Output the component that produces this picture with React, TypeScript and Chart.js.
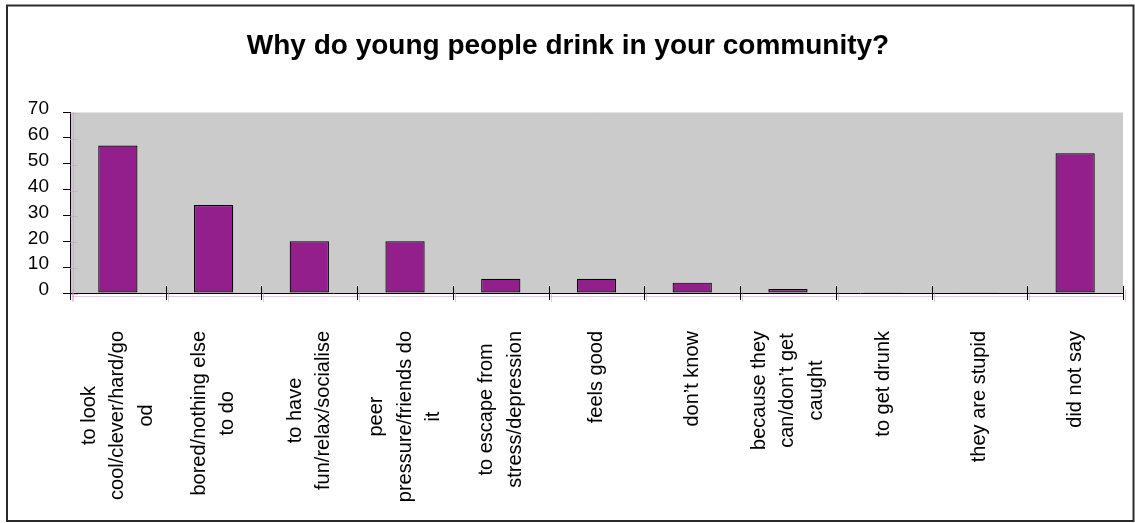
import React, { useEffect, useRef } from "react";
import { Chart, registerables } from "chart.js";

Chart.register(...registerables);

const TITLE = "Why do young people drink in your community?";

const categories: string[][] = [
  ["to look", "cool/clever/hard/go", "od"],
  ["bored/nothing else", "to do"],
  ["to have", "fun/relax/socialise"],
  ["peer", "pressure/friends do", "it"],
  ["to escape from", "stress/depression"],
  ["feels good"],
  ["don\u2019t know"],
  ["because they", "can/don\u2019t get", "caught"],
  ["to get drunk"],
  ["they are stupid"],
  ["did not say"],
];

const values: number[] = [57, 34, 20, 20, 5.5, 5.5, 4, 1.5, 0.3, 0.3, 54];

const Y_MIN = 0;
const Y_MAX = 70;
const Y_STEP = 10;

const FONT = "'Liberation Sans', Arial, sans-serif";
const PINK = "rgba(210,150,210,0.55)";

const decoPlugin = {
  id: "deco",
  beforeDraw(chart: any) {
    const { ctx, chartArea: a, width, height } = chart;
    ctx.save();
    ctx.fillStyle = "#ffffff";
    ctx.fillRect(0, 0, width, height);
    ctx.fillStyle = "#cbcbcb";
    ctx.fillRect(a.left, a.top, a.right - a.left, a.bottom - a.top);
    ctx.strokeStyle = "#e4e4e4";
    ctx.lineWidth = 1;
    ctx.beginPath();
    ctx.moveTo(a.left, a.top + 0.5);
    ctx.lineTo(a.right, a.top + 0.5);
    ctx.stroke();
    ctx.restore();
  },
  afterDraw(chart: any) {
    const { ctx, chartArea: a } = chart;
    const xs = chart.scales.x;
    const ys = chart.scales.y;
    const n = categories.length;
    const half = (xs.getPixelForValue(1) - xs.getPixelForValue(0)) / 2;
    ctx.save();

    // faint pink shadow of the axes
    ctx.strokeStyle = PINK;
    ctx.lineWidth = 1;
    ctx.beginPath();
    ctx.moveTo(a.left + 2, a.bottom + 3.5);
    ctx.lineTo(a.right, a.bottom + 3.5);
    ctx.moveTo(a.left + 3.5, a.top);
    ctx.lineTo(a.left + 3.5, a.bottom + 8);
    ctx.stroke();
    ctx.beginPath();
    for (let v = Y_MIN; v <= Y_MAX; v += Y_STEP) {
      const y = Math.round(ys.getPixelForValue(v)) + 1.5;
      ctx.moveTo(a.left, y);
      ctx.lineTo(a.left + 8, y);
    }
    ctx.stroke();

    // x tick marks crossing the axis at category boundaries
    for (let k = 0; k <= n; k++) {
      const x = Math.round(xs.getPixelForValue(k) - half) + 0.5;
      ctx.strokeStyle = PINK;
      ctx.beginPath();
      ctx.moveTo(x + 2, a.bottom - 3);
      ctx.lineTo(x + 2, a.bottom + 9);
      ctx.stroke();
      ctx.strokeStyle = "#000";
      ctx.beginPath();
      ctx.moveTo(x, a.bottom - 7);
      ctx.lineTo(x, a.bottom + 7);
      ctx.stroke();
    }

    // x labels, rotated, lines centred within their block
    ctx.fillStyle = "#000";
    ctx.font = `20px ${FONT}`;
    ctx.textAlign = "center";
    ctx.textBaseline = "middle";
    const lh = 28.5;
    categories.forEach((lines, i) => {
      const cx = xs.getPixelForValue(i);
      const maxW = Math.max(...lines.map((l) => ctx.measureText(l).width));
      ctx.save();
      ctx.translate(cx, 331);
      ctx.rotate(-Math.PI / 2);
      lines.forEach((line, k) => {
        ctx.fillText(line, -maxW / 2, (k - (lines.length - 1) / 2) * lh);
      });
      ctx.restore();
    });

    // title
    ctx.font = `bold 28px ${FONT}`;
    ctx.textAlign = "center";
    ctx.textBaseline = "alphabetic";
    ctx.fillText(TITLE, 568, 54);

    // outer frame
    ctx.strokeStyle = "#2a2a2a";
    ctx.lineWidth = 2;
    ctx.strokeRect(7, 5.5, 1126.5, 515.5);
    ctx.restore();
  },
};

export default function App() {
  const ref = useRef<HTMLCanvasElement | null>(null);
  useEffect(() => {
    if (!ref.current) return;
    const chart = new Chart(ref.current, {
      type: "bar",
      data: {
        labels: categories.map((c) => c.join(" ")),
        datasets: [
          {
            data: values,
            backgroundColor: "#931f8d",
            borderColor: "#000000",
            borderWidth: 1.2,
            borderSkipped: false,
            barPercentage: 0.41,
            categoryPercentage: 1,
          },
        ],
      },
      options: {
        responsive: false,
        animation: false,
        layout: { padding: { top: 112, left: 0, right: 12, bottom: 0 } },
        plugins: {
          legend: { display: false },
          tooltip: { enabled: false },
          title: { display: false },
        },
        scales: {
          x: {
            grid: { display: true, offset: true, drawOnChartArea: false, drawTicks: false },
            border: { display: true, color: "#000", width: 1 },
            ticks: { display: false },
            afterFit: (s: any) => {
              s.height = 230;
            },
          },
          y: {
            min: Y_MIN,
            max: Y_MAX,
            ticks: {
              stepSize: Y_STEP,
              padding: 14,
              labelOffset: -3,
              color: "#000",
              font: { family: FONT, size: 19 },
            },
            grid: { drawOnChartArea: false, drawTicks: true, tickLength: 7, color: "#000" },
            border: { display: true, color: "#000", width: 1 },
            afterFit: (s: any) => {
              s.width = 70;
            },
          },
        },
      },
      plugins: [decoPlugin],
    });
    return () => chart.destroy();
  }, []);
  return (
    <canvas
      ref={ref}
      width={1135}
      height={523}
      style={{ position: "absolute", left: 0, top: 0, width: 1135, height: 523 }}
    />
  );
}
